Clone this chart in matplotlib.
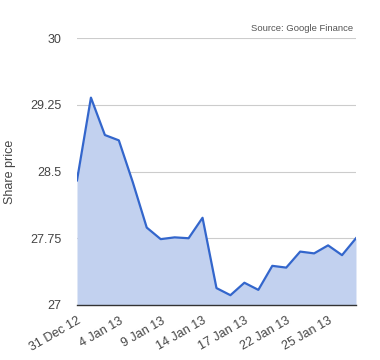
import matplotlib
matplotlib.use('Agg')
import matplotlib.pyplot as plt

plt.rcParams['font.family'] = ['Liberation Sans', 'DejaVu Sans']

# share price, one value per trading day
precios = [28.40, 29.33, 28.91, 28.85, 28.38, 27.87, 27.74, 27.76, 27.75, 27.98,
           27.19, 27.11, 27.25, 27.17, 27.44, 27.42, 27.60, 27.58, 27.67, 27.56, 27.75]
etiquetas_x = ['31 Dec 12', '4 Jan 13', '9 Jan 13', '14 Jan 13', '17 Jan 13', '22 Jan 13', '25 Jan 13']
posiciones_x = [0, 3, 6, 9, 12, 15, 18]
ticks_y = [27, 27.75, 28.5, 29.25, 30]
etiquetas_y = ['27', '27.75', '28.5', '29.25', '30']

fig = plt.figure(figsize=(3.8, 3.6), dpi=100)
ax = fig.add_axes([0.2026, 0.1528, 0.7342, 0.7416])

x = list(range(len(precios)))
ax.fill_between(x, 27, precios, color='#c2d1ef', linewidth=0)
ax.plot(x, precios, color='#3366cc', linewidth=1.6)

ax.set_xlim(0, len(precios) - 1)
ax.set_ylim(27, 30)
ax.set_yticks(ticks_y)
ax.set_yticklabels(etiquetas_y)
ax.set_xticks(posiciones_x)
ax.set_xticklabels(etiquetas_x, rotation=30, ha='right', rotation_mode='anchor')

for t in ticks_y[1:]:
    ax.axhline(t, color='#cccccc', linewidth=0.8, zorder=0)

for s in ['top', 'right', 'left']:
    ax.spines[s].set_visible(False)
ax.spines['bottom'].set_color('#333333')
ax.spines['bottom'].set_linewidth(1.0)
ax.tick_params(axis='both', length=0, labelsize=9, colors='#444444')
ax.tick_params(axis='y', pad=11)
ax.tick_params(axis='x', pad=7)

ax.set_ylabel('Share price', fontsize=9, color='#444444')
ax.yaxis.set_label_coords(-0.22, 0.5)
fig.text(0.929, 0.922, 'Source: Google Finance', fontsize=6.8, color='#555555', ha='right', va='center')

fig.savefig('out.png', dpi=100)
